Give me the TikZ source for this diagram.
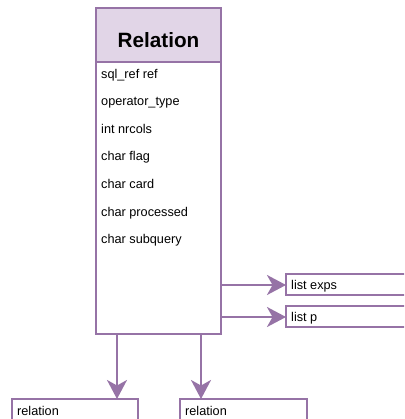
\documentclass[tikz,border=0pt]{standalone}
\usepackage{fontspec}
\setmainfont{Liberation Sans}
\usetikzlibrary{arrows.meta}
\definecolor{vstroke}{HTML}{9673A6}
\definecolor{vfill}{HTML}{E1D5E7}
\tikzset{
  box/.style={draw=vstroke, line width=2pt},
  field/.style={anchor=base west, inner sep=0pt, font=\fontsize{12.7}{14}\selectfont},
  conn/.style={draw=vstroke, line width=2pt, -{Stealth[length=19pt,width=20pt,inset=5.5pt]}, fill=vstroke},
}
\begin{document}
\begin{tikzpicture}[x=1pt,y=-1pt]
\useasboundingbox (0,0) rectangle (404,419);
\clip (0,0) rectangle (404,419);
% main class box
\path[box, fill=vfill] (96,8) rectangle (221,62);
\path[box, fill=white] (96,62) rectangle (221,334);
\node[inner sep=0pt, anchor=base, font=\bfseries\fontsize{20.7}{24}\selectfont] (title) at (158.5,47.5) {Relation};
\node[field] (f1) at (101,78.5) {sql\_ref ref};
\node[field] (f2) at (101,106) {operator\_type};
\node[field] (f3) at (101,133.5) {int nrcols};
\node[field] (f4) at (101,161) {char flag};
\node[field] (f5) at (101,188.5) {char card};
\node[field] (f6) at (101,216) {char processed};
\node[field] (f7) at (101,243.5) {char subquery};
% right boxes
\path[box, fill=white] (286,274) rectangle (420,295);
\node[field] (exps) at (291,289.5) {list exps};
\path[box, fill=white] (286,306) rectangle (420,327);
\node[field] (p) at (291,321.5) {list p};
% bottom boxes
\path[box, fill=white] (11.5,399) rectangle (137.5,430);
\node[field] (r1) at (17,415.5) {relation};
\path[box, fill=white] (180,399) rectangle (306.5,430);
\node[field] (r2) at (185,415.5) {relation};
% connectors
\coordinate (s1) at (221,285);
\coordinate (t1) at (286,285);
\coordinate (s2) at (221,317);
\coordinate (t2) at (286,317);
\coordinate (s3) at (117,334);
\coordinate (t3) at (117,399);
\coordinate (s4) at (201,334);
\coordinate (t4) at (201,399);
\draw[conn] (s1) -- (t1);
\draw[conn] (s2) -- (t2);
\draw[conn] (s3) -- (t3);
\draw[conn] (s4) -- (t4);
\end{tikzpicture}
\end{document}
